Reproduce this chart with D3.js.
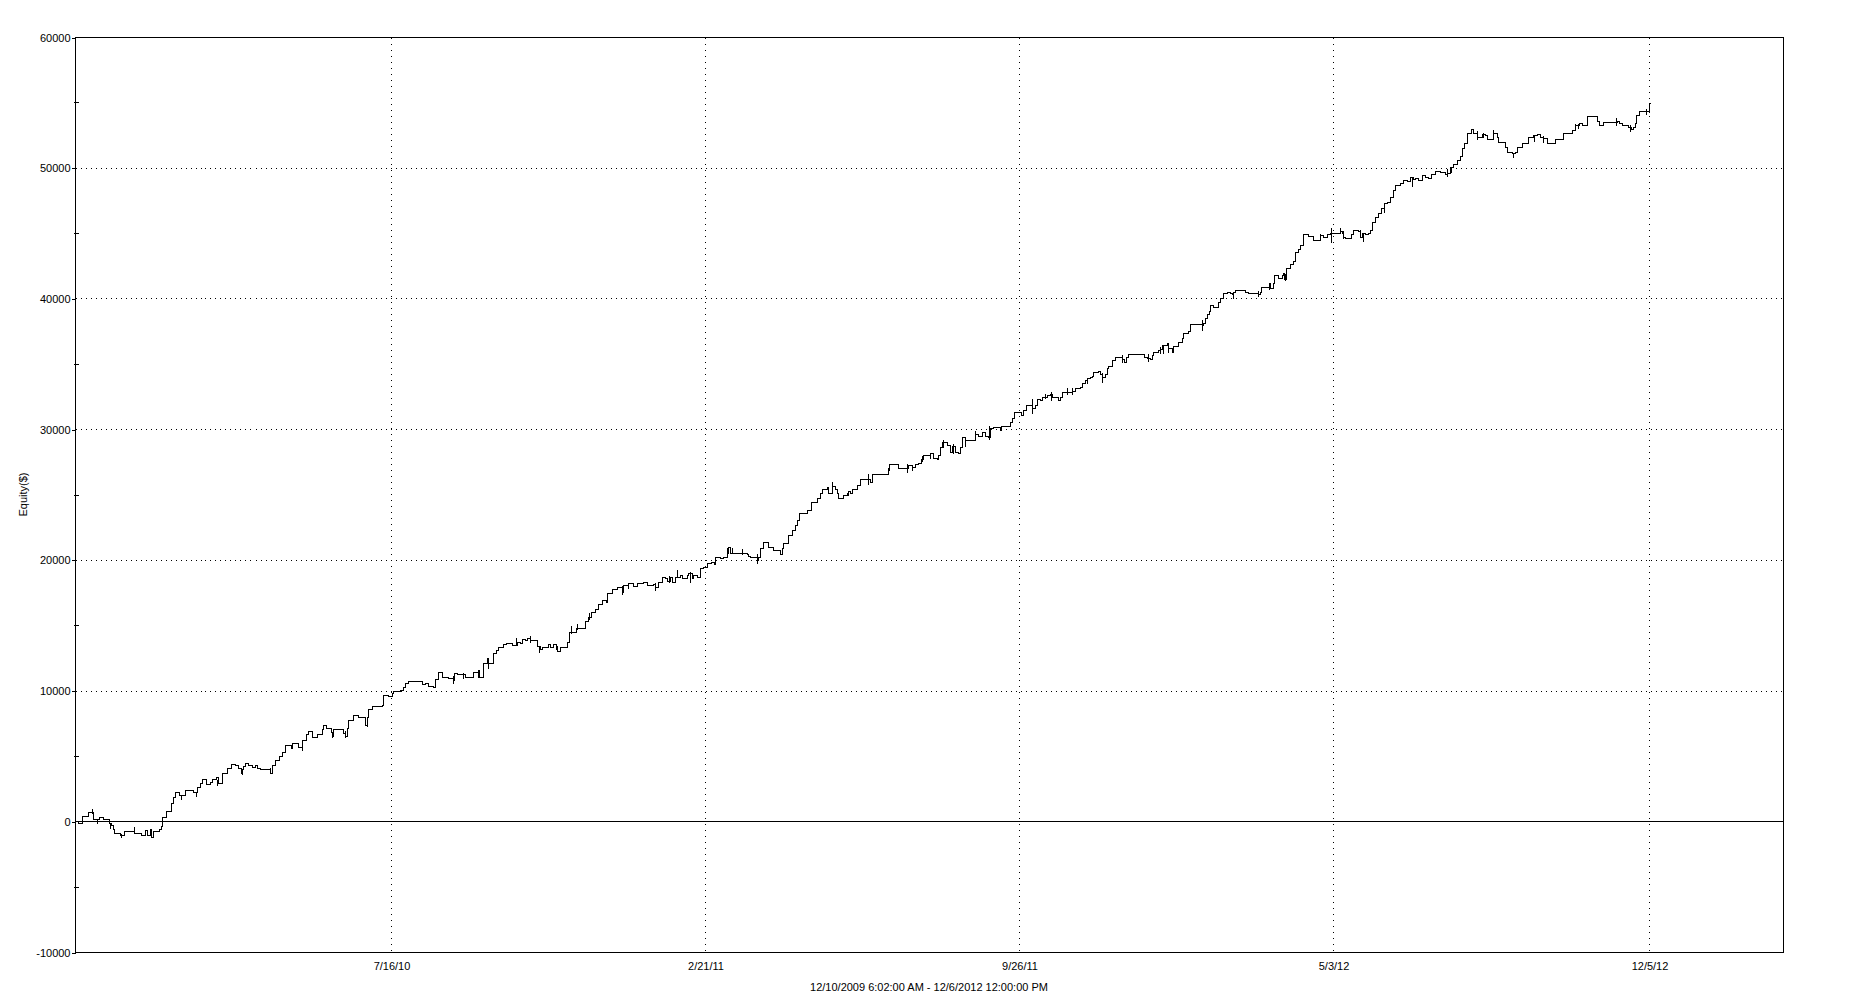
<!DOCTYPE html>
<html>
<head>
<meta charset="utf-8">
<script src="https://cdn.jsdelivr.net/npm/d3@7"></script>
<style>
  html, body { margin: 0; padding: 0; background: #fff; }
  svg text { font-family: "Liberation Sans", Arial, sans-serif; fill: #000; }
</style>
</head>
<body>
<svg id="chart" width="1862" height="1008"></svg>
<script>
// ---- data -------------------------------------------------------------
// x axis is a bar index (the chart plots bars, not calendar time)
const xTickBars   = [158, 315, 472, 629, 787];
const xTickLabels = ["7/16/10", "2/21/11", "9/26/11", "5/3/12", "12/5/12"];
const xTitle      = "12/10/2009 6:02:00 AM - 12/6/2012 12:00:00 PM";
const yTitle      = "Equity($)";
const yMajorTicks = [-10000, 0, 10000, 20000, 30000, 40000, 50000, 60000];
const yMinorTicks = [-5000, 5000, 15000, 25000, 35000, 45000, 55000];
const yGridValues = [10000, 20000, 30000, 40000, 50000];

const barIndex = [
  1.2, 1.7, 3.7, 6.7, 9.2, 11.8, 13.8, 16.8, 17.8, 18.8, 19.5, 22.5, 24.3, 29.5, 33, 35.2, 36.2, 37.5, 38.2, 38.8,
  41.8, 43, 43.3, 45.5, 48, 49.2, 50.2, 52.2, 55.2, 58.8, 60.8, 62.5, 63.7, 65.3, 67.5, 68.7, 70.3, 71.3, 73.3,
  75.8, 78, 80, 81.7, 82.8, 83.5, 84.2, 85, 86.7, 88.3, 90, 90.8, 92.5, 97.5, 98.3, 100, 102, 103.3, 105, 108,
  108.7, 111.3, 113.3, 113.7, 115.3, 116.7, 118.3, 118.7, 120.8, 123.3, 124.2, 125.3, 128, 128.7, 129.2, 134.2,
  135, 135.8, 136.7, 139.2, 141.7, 143.3, 145, 145.8, 146.7, 148.3, 153.3, 154.2, 156.7, 158.3, 159.2, 162.5,
  164.2, 165, 166.7, 173.3, 175, 176.7, 179.2, 180, 181.7, 183.7, 186.7, 189.2, 189.7, 190.8, 195, 199.2,
  201.7, 202.2, 204.2, 205.8, 206.7, 209.2, 210.5, 211.7, 214.2, 215.5, 218.3, 220.8, 222.5, 223.3, 225, 225.8,
  227.5, 230.8, 232.5, 233.3, 236.7, 237.5, 239.2, 240.5, 241.2, 242.5, 245.8, 247.2, 250.5, 255, 256.7, 257.8,
  260, 261.7, 263.3, 265.5, 266.2, 268.3, 270.8, 273.3, 274.2, 276.7, 279.2, 280.8, 283.8, 285.8, 289.2, 290,
  291.7, 293.3, 295, 296.2, 297.5, 298.3, 300, 302.5, 303.3, 305.8, 306.7, 308.3, 309.2, 310.8, 312.5, 314.2,
  315.8, 317.8, 319.5, 320, 322.5, 324.2, 325.8, 326.7, 327.3, 335.8, 336.7, 337.5, 340.8, 341.7, 342.5, 343.8,
  346.7, 349.2, 352.5, 353.3, 354.2, 356.7, 358.3, 360, 360.8, 362.2, 365.8, 367.8, 370.8, 372.5, 373.3, 375.8,
  376.7, 378.3, 380, 380.8, 381.7, 384.2, 385.8, 386.7, 387.5, 388.3, 390.8, 392.5, 397.5, 398.3, 406.7, 407,
  411.7, 415.8, 416.2, 416.7, 418.3, 420, 421.7, 423, 424.2, 427.5, 429.2, 430.8, 431.7, 432.5, 433.7, 435.8,
  437.5, 438.7, 440, 441.7, 442.5, 443.7, 445, 450, 451.7, 453.3, 455, 456.7, 457.5, 459.2, 462.5, 463, 467.5,
  468.3, 469.7, 473, 474.2, 475.3, 478.3, 480, 480.8, 482.5, 483.3, 485.8, 487.5, 488.3, 491.7, 492.5, 493.3,
  498.3, 500, 502.5, 503.3, 505, 505.8, 507.5, 508.3, 509.2, 511.7, 512.5, 513.7, 515, 515.8, 516.7, 518.3,
  520, 523.3, 524.7, 525.3, 526.7, 534.7, 535.8, 537.5, 538.3, 539.2, 541.7, 542.5, 543.3, 545.8, 546.7, 548.3,
  549.2, 551.7, 553.3, 554.2, 556.7, 557.5, 563.3, 564.2, 565, 565.8, 567, 567.5, 569.2, 570, 571.7, 572.5,
  574.2, 575.8, 577.5, 578.3, 579.2, 580, 585, 586.7, 591.7, 592.5, 593, 597.2, 597.7, 598.8, 599.5, 601.7,
  603.3, 604.2, 604.7, 605.5, 607.5, 609.2, 610, 611.7, 612.5, 614.2, 616.7, 619.2, 622.5, 624.2, 625.8, 627.5,
  630.8, 632.5, 633.3, 634.2, 635, 637.8, 639.2, 641.7, 642.5, 643.3, 645, 646.7, 647.5, 648.3, 650, 651.7,
  652.8, 654.5, 655.8, 657.5, 658.8, 660, 662.5, 664.2, 665.8, 667.5, 668.8, 670, 671.7, 673.3, 675, 676.7,
  677.8, 680, 682.5, 685, 685.8, 687.5, 689.2, 690.8, 692.5, 693.3, 694.5, 695.8, 697.8, 699.2, 701.2, 703.3,
  705, 705.8, 709.2, 710.8, 711.7, 715, 716.2, 718.3, 720, 721.2, 723.3, 726.7, 729.2, 730.8, 732.5, 734.2,
  735.8, 740, 744.2, 745.8, 748.3, 750, 752.2, 753.3, 756.2, 760.8, 762.2, 764.2, 770.8, 772.2, 773.3, 776.7,
  777.8, 778.8, 780, 780.5, 782.2, 787.2, 787.6
];

const equity = [
  0, -100, 430, 735, 150, 300, 150, -110, -280, -610, -920, -1050, -720, -920, -1050, -670, -1050, -610, -1200, -740,
  -610, -360, 310, 790, 1420, 1840, 2260, 2010, 2400, 2260, 2650, 2910, 3260, 2860, 3030, 3210, 3420, 2910, 3720,
  4050, 4390, 4310, 4050, 3670, 3980, 4230, 4490, 4310, 4180, 4310, 4050, 3980, 3720, 4310, 4690, 5000, 5330, 5840, 5590,
  6020, 5710, 5510, 6220, 6680, 6940, 6730, 6480, 6680, 7040, 7340, 7120, 6860, 6530, 7060, 6730,
  6530, 7170, 7750, 8140, 8010, 7960, 7370, 7960, 8590, 8850, 8900, 9670, 9590, 9790, 10000, 10050,
  10250, 10560, 10760, 10510, 10560, 10350, 10250, 10860, 11400, 11070, 10940, 10810, 11370, 11250, 11070, 11400,
  11580, 11070, 12090, 12470, 12090, 12850, 13110, 13310, 13540, 13620, 13490, 13750, 13670, 13950, 13870, 14000,
  13870, 13410, 13160, 13360, 13570, 13360, 13570, 13410, 13030, 13360, 13750, 14510, 14770, 15350, 15660, 16040,
  16240, 16630, 16930, 16810, 17440, 17750, 17950, 17570, 18080, 18210, 18000, 18210, 18340, 18080, 18160, 17900,
  18340, 18670, 18590, 18410, 18670, 18340, 18720, 18850, 18590, 18850, 18970, 18590, 18850, 18720, 19350, 19480,
  19790, 19870, 19690, 20200, 20120, 20200, 20500, 21010, 20500, 20450, 20300, 20200, 19990, 20200, 20880, 21340,
  21010, 20760, 20450, 20880, 21270, 21910, 22290, 22670, 23050, 23560, 23820, 24460, 24710, 25140, 25400, 25550,
  25090, 25650, 25400, 25090, 24710, 24970, 25090, 25300, 25090, 25400, 25730, 26160, 25990, 26570, 26880, 27340,
  27000, 26750, 27000, 27260, 27130, 27340, 27440, 27690, 28030, 28150, 27770, 27690, 28030, 28660, 29050, 28790,
  28280, 28710, 28280, 28200, 28610, 29380, 29170, 29630, 29480, 29810, 29480, 29430, 30070, 30190, 29940, 30240, 30580,
  30830, 31340, 31090, 31470, 31850, 31600, 31850, 32280, 32230, 32490, 32620, 32690, 32440, 32230, 32440, 32870,
  32950, 33130, 33250, 33510, 33760, 33890, 33970, 34070, 34400, 34480, 34220, 33970, 34220, 34660, 34830, 35290,
  35550, 35340, 35170, 35550, 35750, 35550, 35420, 35340, 35680, 35930, 36060, 36110, 36440, 36570, 36190, 35930,
  36360, 36700, 36950, 37330, 37540, 38050, 37970, 38150, 38480, 38810, 39070, 39500, 39370, 39320, 39760, 40010,
  40440, 40520, 40440, 40340, 40520, 40650, 40520, 40440, 40340, 40520, 40900, 41160, 40780, 41210, 41800, 41540,
  41800, 41970, 41460, 42310, 42640, 42890, 43580, 43760, 44090, 44930, 44780, 44470, 44860, 44730, 44930, 44980,
  45030, 45190, 44980, 44730, 44600, 44930, 45240, 45190, 44730, 45030, 44930, 44980, 45240, 45880, 46260, 46510,
  46900, 47280, 47400, 47740, 48300, 48680, 48810, 49060, 49010, 49270, 49110, 49190, 49060, 49440, 49270, 49190,
  49520, 49780, 49700, 49520, 49620, 50060, 50290, 50590, 50900, 51490, 51920, 52630, 52940, 52630, 52330, 52580,
  52510, 52170, 52680, 52380, 51990, 51610, 51230, 51100, 51230, 51610, 51920, 52380, 52510, 52580, 52380, 52250,
  51920, 52170, 52630, 52680, 52890, 53270, 53400, 53270, 53960, 53600, 53270, 53530, 53600, 53400, 53270, 53120,
  52940, 53120, 53400, 54030, 54370, 54930, 54930
];

// intra-bar excursions drawn as short vertical ticks on the curve
const spikeBar = [
  8.7, 10.8, 17.5, 23, 29.7, 38, 53, 60.3, 70.8, 83.3, 97.5, 113.3, 128.3, 135, 145.8, 183.7, 188.8, 194.2,
  201.7, 206.7, 220.5, 227.5, 232.2, 240.5, 247.8, 251.2, 257.2, 273.3, 276.7, 290, 297.2, 300.8, 307.5, 326.2,
  328.3, 333.3, 340.8, 378.3, 386.7, 396.7, 406.7, 415.8, 418.7, 423.3, 427.5, 434.2, 439.2, 445, 450, 457,
  478.3, 480.8, 485, 488, 495.8, 498.7, 505.8, 513.7, 523.3, 536.3, 542.5, 544.2, 546.7, 563.7, 579.2, 591.7,
  597.2, 599.2, 605, 622.5, 627.8, 632.5, 634.2, 642.5, 644.2, 654.5, 668.3, 685.8, 687.8, 697.8, 700.8, 703.8,
  709.2, 719.2, 729.5, 734.2, 750, 751.7, 770.5, 777.5, 785.5, 787.2
];
const spikeHigh = [
  995, 150, -150, -920, -360, -790, 2020, 2350, 3210, 3980, 4180, 6150, 6860, 6990, 8010, 11370, 11200, 11450,
  11580, 12470, 14080, 14260, 13490, 13670, 15020, 15200, 16040, 18080, 18210, 18340, 18850, 19280, 19180, 21010,
  21010, 20880, 20500, 26060, 25350, 26620, 27130, 27390, 27260, 28030, 28280, 29220, 28920, 29430, 29940, 30320,
  32360, 32360, 32740, 32950, 33200, 33250, 33890, 34400, 35750, 35800, 36360, 36520, 36620, 38400, 40520, 40650,
  41210, 41290, 41970, 45030, 45440, 45490, 45240, 45290, 45110, 47400, 49270, 49960, 50130, 53020, 52890, 52760,
  52940, 51230, 52580, 52510, 53400, 53450, 53910, 53350, 54540, 54930
];
const spikeLow = [
  610, -150, -540, -1220, -790, -1220, 1710, 1940, 2780, 3620, 3720, 5460, 6480, 6480, 7320, 11020, 10610, 10940,
  11070, 11710, 13570, 13750, 12980, 13160, 14380, 14690, 15450, 17390, 17830, 17700, 18340, 18670, 18340, 20450,
  20500, 20450, 19790, 25400, 24970, 25810, 26570, 26750, 26880, 27590, 27770, 28660, 28200, 28710, 29430, 29220,
  31260, 31850, 32360, 32230, 32690, 32690, 33560, 33640, 35170, 35240, 35850, 35850, 35930, 37590, 40010, 40190,
  40700, 40780, 41410, 44470, 44350, 45030, 44600, 44730, 44420, 46640, 48600, 49370, 49700, 52630, 52170, 52330,
  52380, 50850, 52070, 51990, 52940, 53020, 53270, 52840, 54110, 54290
];

// ---- layout -----------------------------------------------------------
const svg = d3.select("#chart");
const plotLeft = 75, plotRight = 1783, plotTop = 37, plotBottom = 952;

const x = d3.scaleLinear().domain([0, 854]).range([plotLeft, plotRight]);
const y = d3.scaleLinear().domain([-10000, 60000]).range([plotBottom, plotTop]);

const g = svg.append("g").attr("transform", "translate(0.5,0.5)");

// grid lines (dotted)
g.append("g").selectAll("line").data(yGridValues).join("line")
  .attr("x1", plotLeft).attr("x2", plotRight)
  .attr("y1", d => Math.round(y(d))).attr("y2", d => Math.round(y(d)))
  .attr("stroke", "#000").attr("stroke-width", 1)
  .attr("stroke-dasharray", "1,4").attr("shape-rendering", "crispEdges");

g.append("g").selectAll("line").data(xTickBars).join("line")
  .attr("x1", d => Math.round(x(d))).attr("x2", d => Math.round(x(d)))
  .attr("y1", plotTop).attr("y2", plotBottom)
  .attr("stroke", "#000").attr("stroke-width", 1)
  .attr("stroke-dasharray", "1,5").attr("shape-rendering", "crispEdges");

// zero line
g.append("line")
  .attr("x1", plotLeft).attr("x2", plotRight)
  .attr("y1", Math.round(y(0))).attr("y2", Math.round(y(0)))
  .attr("stroke", "#000").attr("shape-rendering", "crispEdges");

// equity curve
const pts = barIndex.map((b, i) => [b, equity[i]]);
const line = d3.line()
  .x(d => Math.round(x(d[0]))).y(d => Math.round(y(d[1])))
  .curve(d3.curveStepAfter);
g.append("path").datum(pts)
  .attr("d", line)
  .attr("fill", "none").attr("stroke", "#000").attr("stroke-width", 1)
  .attr("shape-rendering", "crispEdges");

// spikes
g.append("g").selectAll("line").data(spikeBar).join("line")
  .attr("x1", d => Math.round(x(d))).attr("x2", d => Math.round(x(d)))
  .attr("y1", (d, i) => Math.round(y(spikeHigh[i])))
  .attr("y2", (d, i) => Math.round(y(spikeLow[i])))
  .attr("stroke", "#000").attr("stroke-width", 1)
  .attr("shape-rendering", "crispEdges");

// frame
g.append("rect")
  .attr("x", plotLeft).attr("y", plotTop)
  .attr("width", plotRight - plotLeft).attr("height", plotBottom - plotTop)
  .attr("fill", "none").attr("stroke", "#000").attr("shape-rendering", "crispEdges");

// y axis (plain hyphen-minus for negatives, no thousands separators)
const yAxis = d3.axisLeft(y).tickValues(yMajorTicks).tickFormat(d => String(d))
  .tickSize(4).tickPadding(1);
const ya = g.append("g").attr("transform", `translate(${plotLeft},0)`).call(yAxis);
ya.select(".domain").remove();
ya.selectAll("line").attr("shape-rendering", "crispEdges");
ya.selectAll("text").style("font-size", "11px");

// minor y ticks crossing the axis
g.append("g").selectAll("line").data(yMinorTicks).join("line")
  .attr("x1", plotLeft - 2).attr("x2", plotLeft + 3)
  .attr("y1", d => Math.round(y(d))).attr("y2", d => Math.round(y(d)))
  .attr("stroke", "#000").attr("shape-rendering", "crispEdges");

// x axis
const xAxis = d3.axisBottom(x).tickValues(xTickBars)
  .tickFormat((d, i) => xTickLabels[i]).tickSize(0).tickPadding(10);
const xa = g.append("g").attr("transform", `translate(0,${plotBottom})`).call(xAxis);
xa.select(".domain").remove();
xa.selectAll("text").style("font-size", "11px");

// titles
svg.append("text")
  .attr("x", (plotLeft + plotRight) / 2).attr("y", 991)
  .attr("text-anchor", "middle").style("font-size", "11px")
  .text(xTitle);

svg.append("text")
  .attr("transform", `translate(27,${(plotTop + plotBottom) / 2}) rotate(-90)`)
  .attr("text-anchor", "middle").style("font-size", "11px")
  .text(yTitle);
</script>
</body>
</html>
